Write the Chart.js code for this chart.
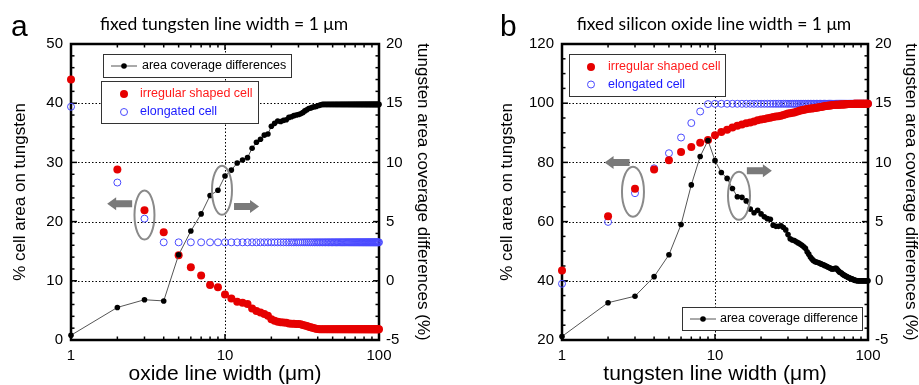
<!DOCTYPE html>
<html lang="en">
<head>
<meta charset="UTF-8">
<title>Cell area on tungsten vs line width</title>
<script src="https://cdn.jsdelivr.net/npm/chart.js"></script>
<style>
    body { margin: 0; background: #fff; }
    .wrap { position: relative; width: 919px; height: 385px; }
    #chartA { position: absolute; left: 0; top: 0; }
    #chartB { position: absolute; left: 459px; top: 0; }
</style>
</head>
<body>
<div class="wrap">
    <canvas id="chartA" width="459" height="385"></canvas>
    <canvas id="chartB" width="460" height="385"></canvas>
</div>
<script>
// line widths (um), x for both panels
const lineWidths = [
    1,2,3,4,5,6,7,8,9,10, 11,12,13,14,15,16,17,18,19,20,
    21,22,23,24,25,26,27,28,29,30, 31,32,33,34,35,36,37,38,39,40,
    41,42,43,44,45,46,47,48,49,50, 51,52,53,54,55,56,57,58,59,60,
    61,62,63,64,65,66,67,68,69,70, 71,72,73,74,75,76,77,78,79,80,
    81,82,83,84,85,86,87,88,89,90, 91,92,93,94,95,96,97,98,99,100
];

// panel a: fixed tungsten line width, varying oxide width
const oxideIrregular = [
    44.0,28.8,21.9,18.2,14.3,12.3,10.9,9.3,8.9,7.7,
    7.0,6.45,6.3,6.1,5.3,4.9,4.65,4.4,4.1,3.5,
    3.25,3.1,3.0,2.95,2.9,2.8,2.75,2.75,2.72,2.7,
    2.65,2.55,2.45,2.35,2.25,2.15,2.08,2.0,1.92,1.85,
    1.8,1.8,1.8,1.8,1.8,1.8,1.8,1.8,1.8,1.8,
    1.8,1.8,1.8,1.8,1.8,1.8,1.8,1.8,1.8,1.8,
    1.8,1.8,1.8,1.8,1.8,1.8,1.8,1.8,1.8,1.8,
    1.8,1.8,1.8,1.8,1.8,1.8,1.8,1.8,1.8,1.8,
    1.8,1.8,1.8,1.8,1.8,1.8,1.8,1.8,1.8,1.8,
    1.8,1.8,1.8,1.8,1.8,1.8,1.8,1.8,1.8,1.8
];
const oxideElongated = [
    39.4,26.6,20.5,16.5,16.5,16.5,16.5,16.5,16.5,16.5,
    16.5,16.5,16.5,16.5,16.5,16.5,16.5,16.5,16.5,16.5,
    16.5,16.5,16.5,16.5,16.5,16.5,16.5,16.5,16.5,16.5,
    16.5,16.5,16.5,16.5,16.5,16.5,16.5,16.5,16.5,16.5,
    16.5,16.5,16.5,16.5,16.5,16.5,16.5,16.5,16.5,16.5,
    16.5,16.5,16.5,16.5,16.5,16.5,16.5,16.5,16.5,16.5,
    16.5,16.5,16.5,16.5,16.5,16.5,16.5,16.5,16.5,16.5,
    16.5,16.5,16.5,16.5,16.5,16.5,16.5,16.5,16.5,16.5,
    16.5,16.5,16.5,16.5,16.5,16.5,16.5,16.5,16.5,16.5,
    16.5,16.5,16.5,16.5,16.5,16.5,16.5,16.5,16.5,16.5
];
const oxideDifference = [
    -4.6,-2.25,-1.6,-1.7,2.2,4.2,5.65,7.2,7.65,8.85,
    9.35,9.95,10.2,10.4,11.2,11.7,11.95,12.3,12.4,13.05,
    13.3,13.5,13.45,13.55,13.6,13.8,13.85,13.95,14.0,14.05,
    14.1,14.2,14.35,14.45,14.55,14.6,14.65,14.7,14.72,14.78,
    14.82,14.87,14.9,14.9,14.9,14.9,14.9,14.9,14.9,14.9,
    14.9,14.9,14.9,14.9,14.9,14.9,14.9,14.9,14.9,14.9,
    14.9,14.9,14.9,14.9,14.9,14.9,14.9,14.9,14.9,14.9,
    14.9,14.9,14.9,14.9,14.9,14.9,14.9,14.9,14.9,14.9,
    14.9,14.9,14.9,14.9,14.9,14.9,14.9,14.9,14.9,14.9,
    14.9,14.9,14.9,14.9,14.9,14.9,14.9,14.9,14.9,14.9
];

// panel b: fixed silicon oxide line width, varying tungsten width
const tungstenIrregular = [
    43.5,61.8,71.1,77.6,80.7,83.5,85.2,86.6,87.6,89.2,
    90.3,91.0,91.8,92.4,92.8,93.2,93.5,93.8,94.2,94.5,
    94.7,94.9,95.1,95.3,95.5,95.6,95.8,96.0,96.3,96.5,
    96.6,96.75,96.9,97.1,97.3,97.5,97.6,97.8,97.9,98.0,
    98.1,98.2,98.25,98.3,98.4,98.5,98.55,98.6,98.7,98.8,
    98.9,99.0,99.05,99.1,99.15,99.2,99.25,99.3,99.35,99.4,
    99.45,99.45,99.5,99.5,99.5,99.55,99.55,99.6,99.6,99.6,
    99.65,99.65,99.65,99.7,99.7,99.7,99.7,99.75,99.75,99.75,
    99.8,99.8,99.8,99.8,99.8,99.8,99.8,99.8,99.8,99.8,
    99.8,99.8,99.8,99.8,99.8,99.8,99.8,99.8,99.8,99.8
];
const tungstenElongated = [
    39.0,59.9,69.6,78.0,83.1,88.4,93.3,97.2,99.7,99.8,
    99.8,99.8,99.8,99.8,99.8,99.8,99.8,99.8,99.8,99.8,
    99.8,99.8,99.8,99.8,99.8,99.8,99.8,99.8,99.8,99.8,
    99.8,99.8,99.8,99.8,99.8,99.8,99.8,99.8,99.8,99.8,
    99.8,99.8,99.8,99.8,99.8,99.8,99.8,99.8,99.8,99.8,
    99.8,99.8,99.8,99.8,99.8,99.8,99.8,99.8,99.8,99.8,
    99.8,99.8,99.8,99.8,99.8,99.8,99.8,99.8,99.8,99.8,
    99.8,99.8,99.8,99.8,99.8,99.8,99.8,99.8,99.8,99.8,
    99.8,99.8,99.8,99.8,99.8,99.8,99.8,99.8,99.8,99.8,
    99.8,99.8,99.8,99.8,99.8,99.8,99.8,99.8,99.8,99.8
];
const tungstenDifference = [
    -4.7,-1.85,-1.3,0.35,2.2,4.75,8.1,10.5,11.85,10.15,
    9.15,8.65,7.8,7.1,7.05,6.75,6.05,5.75,5.95,5.65,
    5.4,5.25,5.2,4.7,4.6,4.6,4.65,4.5,4.3,3.9,
    3.55,3.45,3.4,3.3,3.2,3.1,3.0,2.88,2.75,2.45,
    2.25,2.0,1.85,1.7,1.62,1.58,1.54,1.5,1.45,1.4,
    1.35,1.3,1.25,1.2,1.15,1.1,1.05,1.0,1.0,1.02,
    1.05,1.06,0.95,0.85,0.75,0.7,0.65,0.58,0.52,0.46,
    0.42,0.38,0.34,0.3,0.26,0.23,0.2,0.17,0.14,0.11,
    0.08,0.05,0.03,0.02,0.01,0,0,0,0,0,
    0,0,0,0,0,0,0,0,0,0
];

// axis ticks
const logLabels = [1, 10, 100];
const logMinor = [2,3,4,5,6,7,8,9,20,30,40,50,60,70,80,90];

const RED = '#e60000';
const BLUE = '#4a4aff';

Chart.defaults.font.family = '"Liberation Sans", Arial, sans-serif';
Chart.defaults.color = '#000';

function pts(values) {
    return lineWidths.map((w, i) => ({ x: w, y: values[i] }));
}

// frame, inner ticks, dotted grid, legends, arrows, titles
const decor = {
    id: 'decor',
    beforeDatasetsDraw(chart, args, o) {
        const { ctx, chartArea: a, scales } = chart;
        const sx = scales.x, sy = scales.y, sr = scales.y1;
        ctx.save();
        // dotted grid
        ctx.strokeStyle = '#000';
        ctx.lineWidth = 1;
        ctx.setLineDash([1.5, 2]);
        o.hLines.forEach(v => {
            const y = Math.round(sy.getPixelForValue(v)) + 0.5;
            ctx.beginPath(); ctx.moveTo(a.left, y); ctx.lineTo(a.right, y); ctx.stroke();
        });
        o.vLines.forEach(v => {
            const x = Math.round(sx.getPixelForValue(v)) + 0.5;
            ctx.beginPath(); ctx.moveTo(x, a.top); ctx.lineTo(x, a.bottom); ctx.stroke();
        });
        ctx.setLineDash([]);
        // ticks
        ctx.lineWidth = 1.5;
        const tick = (x1, y1, x2, y2) => { ctx.beginPath(); ctx.moveTo(x1, y1); ctx.lineTo(x2, y2); ctx.stroke(); };
        for (let v = sy.min; v <= sy.max; v += o.leftMinor) {
            const y = sy.getPixelForValue(v);
            const len = (v % o.leftMajor === 0) ? 6 : 3.5;
            tick(a.left, y, a.left + len, y);
        }
        for (let v = sr.min; v <= sr.max; v += 1) {
            const y = sr.getPixelForValue(v);
            const len = (v % 5 === 0) ? 6 : 3.5;
            tick(a.right, y, a.right - len, y);
        }
        logLabels.concat(logMinor).forEach(v => {
            const x = sx.getPixelForValue(v);
            const len = logLabels.includes(v) ? 6 : 3.5;
            tick(x, a.bottom, x, a.bottom - len);
            tick(x, a.top, x, a.top + len);
        });
        // frame
        ctx.lineWidth = 2.5;
        ctx.strokeRect(a.left, a.top, a.right - a.left, a.bottom - a.top);
        ctx.restore();
    },
    afterDraw(chart, args, o) {
        const { ctx, scales } = chart;
        const sx = scales.x, sy = scales.y;
        ctx.save();
        // ellipses and arrows
        ctx.strokeStyle = '#8a8a8a';
        ctx.lineWidth = 2;
        o.ellipses.forEach(e => {
            ctx.beginPath();
            ctx.ellipse(sx.getPixelForValue(e.x), sy.getPixelForValue(e.y), e.rx, e.ry, 0, 0, Math.PI * 2);
            ctx.stroke();
        });
        ctx.fillStyle = '#7a7a7a';
        o.arrows.forEach(ar => {
            const cx = sx.getPixelForValue(ar.x), cy = sy.getPixelForValue(ar.y);
            const d = ar.dir, half = 12.5, headL = 9, sh = 3.5, hh = 6.5;
            const tip = cx + d * half, tail = cx - d * half, base = tip - d * headL;
            ctx.beginPath();
            ctx.moveTo(tail, cy - sh);
            ctx.lineTo(base, cy - sh);
            ctx.lineTo(base, cy - hh);
            ctx.lineTo(tip, cy);
            ctx.lineTo(base, cy + hh);
            ctx.lineTo(base, cy + sh);
            ctx.lineTo(tail, cy + sh);
            ctx.closePath();
            ctx.fill();
        });
        // legend boxes
        ctx.font = '12.5px "Liberation Sans", Arial, sans-serif';
        ctx.textBaseline = 'middle';
        o.legends.forEach(lg => {
            ctx.fillStyle = '#fff';
            ctx.fillRect(lg.x, lg.y, lg.w, lg.h);
            ctx.strokeStyle = '#333';
            ctx.lineWidth = 1;
            ctx.strokeRect(lg.x + 0.5, lg.y + 0.5, lg.w, lg.h);
            lg.items.forEach((it, i) => {
                const y = lg.y + lg.first + i * lg.step;
                const sxm = lg.x + lg.sym;
                if (it.kind === 'line') {
                    ctx.strokeStyle = '#555';
                    ctx.beginPath(); ctx.moveTo(sxm - 13, y); ctx.lineTo(sxm + 13, y); ctx.stroke();
                    ctx.fillStyle = '#000';
                    ctx.beginPath(); ctx.arc(sxm, y, 2.8, 0, Math.PI * 2); ctx.fill();
                } else if (it.kind === 'dot') {
                    ctx.fillStyle = RED;
                    ctx.beginPath(); ctx.arc(sxm, y, 4, 0, Math.PI * 2); ctx.fill();
                } else {
                    ctx.strokeStyle = BLUE;
                    ctx.beginPath(); ctx.arc(sxm, y, 3.5, 0, Math.PI * 2); ctx.stroke();
                }
                ctx.fillStyle = it.color;
                ctx.textAlign = 'left';
                ctx.fillText(it.text, lg.x + lg.textX, y);
            });
        });
        // panel title and letter
        ctx.fillStyle = '#000';
        ctx.textAlign = 'center';
        ctx.textBaseline = 'alphabetic';
        ctx.font = '17.5px Lato, "Open Sans", sans-serif';
        ctx.fillText(o.title, o.titleX, 30);
        ctx.textAlign = 'left';
        ctx.font = '30px "Liberation Sans", Arial, sans-serif';
        ctx.fillText(o.letter, o.letterX, 36);
        ctx.restore();
    }
};

function makeChart(id, cfg) {
    const tickFont = { size: 15 };
    const titleFont = { size: 17 };
    return new Chart(document.getElementById(id), {
        type: 'line',
        data: {
            datasets: [
                {
                    label: 'area coverage differences',
                    data: pts(cfg.diff),
                    yAxisID: 'y1',
                    borderColor: '#555',
                    borderWidth: 1,
                    pointRadius: 2.8,
                    pointBackgroundColor: '#000',
                    pointBorderWidth: 0,
                    clip: false
                },
                {
                    label: 'irregular shaped cell',
                    data: pts(cfg.irregular),
                    yAxisID: 'y',
                    showLine: false,
                    pointRadius: 4,
                    pointBackgroundColor: RED,
                    pointBorderWidth: 0,
                    clip: false
                },
                {
                    label: 'elongated cell',
                    data: pts(cfg.elongated),
                    yAxisID: 'y',
                    showLine: false,
                    pointRadius: 3.5,
                    pointBackgroundColor: 'rgba(0,0,0,0)',
                    pointBorderColor: BLUE,
                    pointBorderWidth: 1,
                    clip: false
                }
            ]
        },
        options: {
            responsive: false,
            animation: false,
            events: [],
            layout: { padding: { top: 44, left: 0, right: 0, bottom: 0 } },
            plugins: {
                legend: { display: false },
                tooltip: { enabled: false },
                decor: cfg.decor
            },
            scales: {
                x: {
                    type: 'logarithmic',
                    position: 'bottom',
                    min: 1, max: 100,
                    grid: { display: false, drawTicks: false },
                    border: { display: false },
                    afterBuildTicks: s => { s.ticks = logLabels.map(v => ({ value: v })); },
                    ticks: { font: tickFont, padding: 7, maxRotation: 0, autoSkip: false, callback: v => String(v) },
                    title: { display: true, text: cfg.xTitle, font: { size: 21 }, padding: { top: 0, bottom: -1.5 } },
                    afterFit: s => { s.height = 45; }
                },
                y: {
                    position: 'left',
                    min: cfg.leftMin, max: cfg.leftMax,
                    grid: { display: false, drawTicks: false },
                    border: { display: false },
                    ticks: { font: tickFont, padding: 8, stepSize: cfg.leftStep },
                    title: { display: true, text: '% cell area on tungsten', font: titleFont, padding: { top: cfg.leftTitlePad } },
                    afterFit: s => { s.width = cfg.leftWidth; }
                },
                y1: {
                    position: 'right',
                    min: -5, max: 20,
                    grid: { display: false, drawTicks: false },
                    border: { display: false },
                    ticks: { font: tickFont, padding: 7, stepSize: 5 },
                    title: { display: true, text: 'tungsten area coverage differences (%)', font: titleFont, padding: { top: cfg.rightTitlePad } },
                    afterFit: s => { s.width = cfg.rightWidth; }
                }
            }
        },
        plugins: [decor]
    });
}

makeChart('chartA', {
    diff: oxideDifference,
    irregular: oxideIrregular,
    elongated: oxideElongated,
    xTitle: 'oxide line width (\u03bcm)',
    leftMin: 0, leftMax: 50, leftStep: 10,
    leftWidth: 71, rightWidth: 80,
    leftTitlePad: 10, rightTitlePad: 26,
    decor: {
        hLines: [10, 20, 30, 40], vLines: [10],
        leftMinor: 2, leftMajor: 10,
        title: 'fixed tungsten line width = 1 \u03bcm', titleX: 224,
        letter: 'a', letterX: 11,
        ellipses: [
            { x: 3, y: 21.1, rx: 10, ry: 24.5 },
            { x: 9.56, y: 25.3, rx: 10, ry: 24.5 }
        ],
        arrows: [
            { x: 2.07, y: 23.0, dir: -1 },
            { x: 13.8, y: 22.55, dir: 1 }
        ],
        legends: [
            { x: 103, y: 54, w: 188, h: 23, sym: 21, textX: 39, first: 12, step: 0,
              items: [{ kind: 'line', text: 'area coverage differences', color: '#000' }] },
            { x: 101, y: 81, w: 157, h: 42, sym: 23, textX: 39, first: 13, step: 18,
              items: [
                  { kind: 'dot', text: 'irregular shaped cell', color: '#ff1a1a' },
                  { kind: 'ring', text: 'elongated cell', color: '#1a1aff' }
              ] }
        ]
    }
});

makeChart('chartB', {
    diff: tungstenDifference,
    irregular: tungstenIrregular,
    elongated: tungstenElongated,
    xTitle: 'tungsten line width (\u03bcm)',
    leftMin: 20, leftMax: 120, leftStep: 20,
    leftWidth: 103, rightWidth: 51,
    leftTitlePad: 38, rightTitlePad: -2,
    decor: {
        hLines: [40, 60, 80, 100], vLines: [10],
        leftMinor: 5, leftMajor: 20,
        title: 'fixed silicon oxide line width = 1 \u03bcm', titleX: 255,
        letter: 'b', letterX: 41,
        ellipses: [
            { x: 2.91, y: 70.1, rx: 11, ry: 25 },
            { x: 14.35, y: 68.7, rx: 11, ry: 24 }
        ],
        arrows: [
            { x: 2.29, y: 80.0, dir: -1 },
            { x: 19.5, y: 77.2, dir: 1 }
        ],
        legends: [
            { x: 110, y: 54, w: 156, h: 42, sym: 22, textX: 39, first: 13, step: 17.5,
              items: [
                  { kind: 'dot', text: 'irregular shaped cell', color: '#ff1a1a' },
                  { kind: 'ring', text: 'elongated cell', color: '#1a1aff' }
              ] },
            { x: 223, y: 307, w: 180, h: 23, sym: 21, textX: 38, first: 12, step: 0,
              items: [{ kind: 'line', text: 'area coverage difference', color: '#000' }] }
        ]
    }
});
</script>
</body>
</html>
